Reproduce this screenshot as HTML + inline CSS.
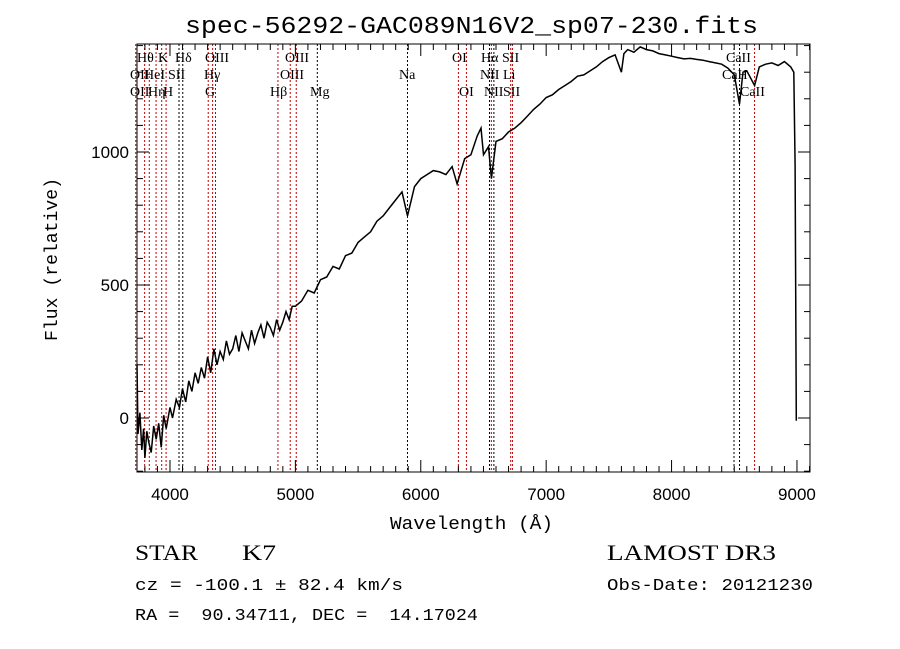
<!DOCTYPE html>
<html><head><meta charset="utf-8"><style>
html,body{margin:0;padding:0;background:#fff;}
svg{display:block;}
.lbl{font-family:"Liberation Serif",serif;font-size:14px;fill:#000;}
.tick{font-family:"Liberation Sans",sans-serif;font-size:17px;fill:#000;}
.mono{font-family:"Liberation Mono",monospace;fill:#000;}
</style></head><body>
<svg id="chart" width="900" height="649" viewBox="0 0 900 649" xmlns="http://www.w3.org/2000/svg">
<rect width="900" height="649" fill="#fff"/>
<text x="185" y="33" textLength="573" lengthAdjust="spacingAndGlyphs" class="mono" font-size="24">spec-56292-GAC089N16V2_sp07-230.fits</text>
<g id="lines"></g>
<g id="labels"></g>
<path id="spec" fill="none" stroke="#000" stroke-width="1.5"/>
<rect x="137" y="44" width="673" height="428" fill="none" stroke="#000" stroke-width="1"/>
<g id="axes"></g>
<text x="390" y="529" textLength="163" lengthAdjust="spacingAndGlyphs" class="mono" font-size="18">Wavelength (Å)</text>
<text transform="translate(57,341) rotate(-90)" textLength="163" lengthAdjust="spacingAndGlyphs" class="mono" font-size="18">Flux (relative)</text>
<text x="135" y="560" textLength="63" lengthAdjust="spacingAndGlyphs" font-family="Liberation Serif,serif" font-size="22">STAR</text>
<text x="242" y="560" textLength="34" lengthAdjust="spacingAndGlyphs" font-family="Liberation Serif,serif" font-size="22">K7</text>
<text x="607" y="560" textLength="169" lengthAdjust="spacingAndGlyphs" font-family="Liberation Serif,serif" font-size="22">LAMOST DR3</text>
<text x="135" y="590" textLength="268" lengthAdjust="spacingAndGlyphs" class="mono" font-size="17">cz = -100.1 ± 82.4 km/s</text>
<text x="607" y="590" textLength="206" lengthAdjust="spacingAndGlyphs" class="mono" font-size="17">Obs-Date: 20121230</text>
<text x="135" y="620" textLength="343" lengthAdjust="spacingAndGlyphs" class="mono" font-size="17" xml:space="preserve">RA =  90.34711, DEC =  14.17024</text>
</svg>
<script>
const wavelengths=[3737,3745,3760,3775,3790,3800,3815,3830,3850,3870,3890,3910,3930,3950,3970,4000,4020,4050,4075,4100,4125,4150,4175,4200,4225,4250,4275,4300,4325,4350,4375,4400,4425,4450,4475,4500,4525,4550,4575,4600,4625,4650,4675,4700,4725,4750,4775,4800,4825,4850,4875,4900,4925,4950,4975,5000,5050,5100,5150,5200,5250,5300,5350,5400,5450,5500,5550,5600,5650,5700,5750,5800,5850,5894,5950,6000,6050,6100,6150,6200,6250,6290,6350,6400,6450,6480,6500,6540,6563,6600,6650,6700,6750,6800,6850,6900,6950,7000,7050,7100,7150,7200,7250,7300,7350,7400,7450,7500,7550,7600,7620,7650,7700,7750,7800,7850,7900,7950,8000,8050,8100,8150,8200,8250,8300,8350,8400,8450,8500,8542,8570,8600,8662,8700,8750,8800,8850,8900,8950,8975,8985,8995];
const fluxes=[200,-60,20,-120,-40,-150,-50,-90,-130,-30,-80,-20,-110,10,-40,40,0,70,40,110,60,140,100,170,130,190,150,230,170,260,200,250,220,290,240,260,310,250,320,290,260,330,280,320,350,300,360,340,310,370,330,360,400,370,420,420,440,480,470,520,530,570,560,610,620,660,680,700,740,760,790,820,850,760,870,900,915,930,925,915,945,880,975,990,1060,1090,990,1020,900,1040,1050,1075,1090,1110,1135,1160,1180,1205,1215,1235,1250,1265,1285,1290,1305,1320,1340,1355,1365,1300,1370,1385,1375,1395,1385,1380,1370,1365,1360,1355,1350,1352,1348,1345,1340,1335,1330,1315,1290,1180,1300,1305,1250,1320,1330,1335,1325,1340,1320,1300,950,-10];
const specLines=[[3727,'r'],[3798,'r'],[3835,'r'],[3889,'r'],[3934,'r'],[3969,'r'],[4072,'k'],[4102,'k'],[4305,'r'],[4340,'r'],[4363,'r'],[4861,'r'],[4959,'r'],[5007,'r'],[5175,'k'],[5894,'k'],[6300,'r'],[6364,'r'],[6548,'k'],[6563,'r'],[6583,'k'],[6717,'r'],[6731,'r'],[8498,'k'],[8542,'k'],[8662,'r']];
const lineLabels=[["Hθ",137,57],["K",158,57],["Hδ",175,57],["OIII",205,57],["OIII",285,57],["OI",452,57],["Hα",481,57],["SII",502,57],["CaII",726,57],
["OII",130,74],["HeI",144,74],["SII",168,74],["Hγ",204,74],["OIII",280,74],["Na",399,74],["NII",480,74],["Li",503,74],["CaH",722,74],
["OII",130,91],["Hη",148,91],["H",163,91],["G",205,91],["Hβ",270,91],["Mg",310,91],["OI",459,91],["NII",484,91],["SII",503,91],["CaII",740,91]];
const xTicks=[4000,5000,6000,7000,8000,9000];
const yTicks=[0,500,1000];
const NS='http://www.w3.org/2000/svg';
const X0=137,X1=810,Y0=44,Y1=472,LMIN=3737,LMAX=9104,FMIN=-203,FMAX=1406;
const xs=l=>X0+(l-LMIN)/(LMAX-LMIN)*(X1-X0);
const ys=f=>Y1-(f-FMIN)/(FMAX-FMIN)*(Y1-Y0);
let d='';
wavelengths.forEach((l,i)=>{d+=(i?'L':'M')+xs(l).toFixed(1)+','+ys(fluxes[i]).toFixed(1);});
document.getElementById('spec').setAttribute('d',d);
const gl=document.getElementById('lines');
specLines.forEach(s=>{const e=document.createElementNS(NS,'line');
e.setAttribute('x1',xs(s[0]));e.setAttribute('x2',xs(s[0]));e.setAttribute('y1',Y0);e.setAttribute('y2',Y1);
e.setAttribute('stroke',s[1]=='r'?'#c00000':'#000');e.setAttribute('stroke-width','1');e.setAttribute('stroke-dasharray','2,2');


gl.appendChild(e);});
const gt=document.getElementById('labels');
lineLabels.forEach(t=>{const e=document.createElementNS(NS,'text');e.setAttribute('x',t[1]);e.setAttribute('y',t[2]+5);e.setAttribute('class','lbl');e.textContent=t[0];


gt.appendChild(e);});
const ga=document.getElementById('axes');
function ln(x1,y1,x2,y2){const e=document.createElementNS(NS,'line');e.setAttribute('x1',x1);e.setAttribute('y1',y1);e.setAttribute('x2',x2);e.setAttribute('y2',y2);e.setAttribute('stroke','#000');


ga.appendChild(e);}
for(let l=3800;l<=9100;l+=100){const x=xs(l);const big=l%1000==0;ln(x,Y1,x,Y1-(big?12:6));ln(x,Y0,x,Y0+(big?12:6));}
for(let f=-200;f<=1400;f+=100){const y=ys(f);const big=f%500==0;ln(X0,y,X0+(big?12:6),y);ln(X1,y,X1-(big?12:6),y);}
xTicks.forEach(v=>{const e=document.createElementNS(NS,'text');e.setAttribute('x',xs(v));e.setAttribute('y',Y1+28);e.setAttribute('text-anchor','middle');e.setAttribute('class','tick');e.textContent=v;


ga.appendChild(e);});
yTicks.forEach(v=>{const e=document.createElementNS(NS,'text');e.setAttribute('x',X0-8);e.setAttribute('y',ys(v)+6);e.setAttribute('text-anchor','end');e.setAttribute('class','tick');e.textContent=v;


ga.appendChild(e);});
</script>
</body></html>
